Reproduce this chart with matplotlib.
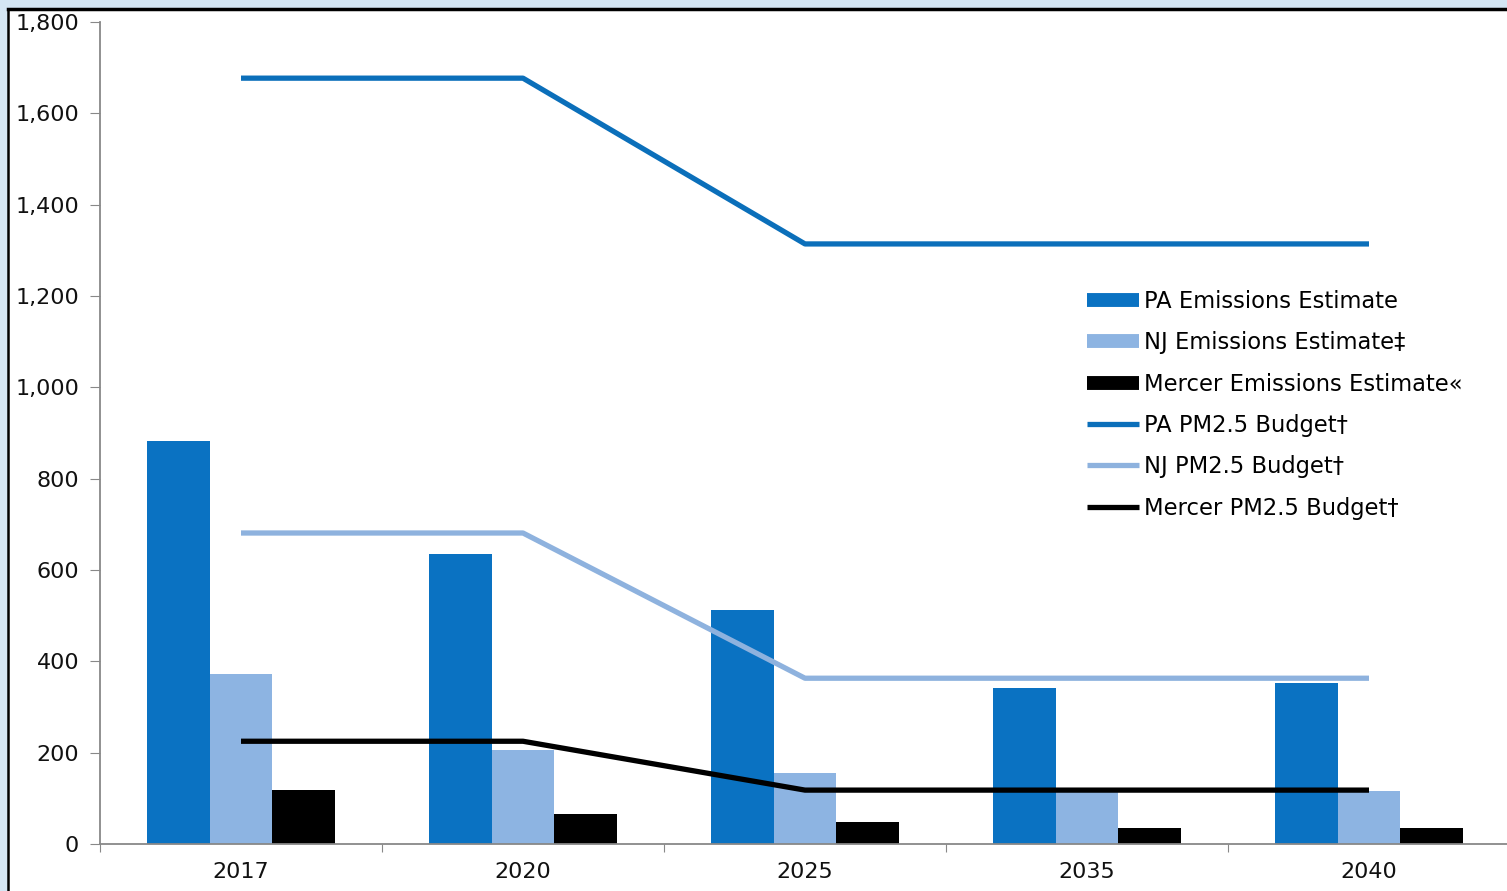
import matplotlib
matplotlib.use("Agg")
import matplotlib.pyplot as plt
import numpy as np
from matplotlib.lines import Line2D
from matplotlib.patches import Rectangle
from matplotlib.ticker import FuncFormatter, FixedLocator

plt.rcParams['font.family'] = ['DejaVu Sans']

years = ['2017', '2020', '2025', '2035', '2040']
pa_emis = [882, 635, 512, 342, 352]
nj_emis = [372, 206, 155, 116, 116]
mercer_emis = [118, 66, 48, 35, 35]
pa_budget = [1677, 1677, 1314, 1314, 1314]
nj_budget = [681, 681, 363, 363, 363]
mercer_budget = [225, 225, 118, 118, 118]

W, H = 1507, 891
fig = plt.figure(figsize=(W / 100, H / 100), dpi=100, facecolor='#d4e6f4')

# white panel with black top/left border
fig.patches.append(Rectangle((8 / W, 0), 1 - 8 / W, 1 - 9 / H, transform=fig.transFigure,
                             facecolor='white', edgecolor='none', zorder=-5))
fig.add_artist(Line2D([8 / W, 1], [1 - 8.5 / H, 1 - 8.5 / H], transform=fig.transFigure,
                      color='black', lw=2.5, zorder=-4))
fig.add_artist(Line2D([8 / W, 8 / W], [0, 1 - 8.5 / H], transform=fig.transFigure,
                      color='black', lw=1.8, zorder=-4))

ax = fig.add_axes([100 / W, 47 / H, 1410 / W, 822 / H])
ax.set_facecolor('none')

x = np.arange(len(years))
bw = 0.223
c_pa = '#0a72c2'
c_nj = '#8db4e2'
c_me = '#000000'

ax.bar(x - bw, pa_emis, bw, color=c_pa, zorder=2)
ax.bar(x, nj_emis, bw, color=c_nj, zorder=2)
ax.bar(x + bw, mercer_emis, bw, color=c_me, zorder=2)

ax.plot(x, pa_budget, color='#0b6fba', lw=3.8, zorder=3, solid_capstyle='butt')
ax.plot(x, nj_budget, color='#8eb2de', lw=3.8, zorder=3, solid_capstyle='butt')
ax.plot(x, mercer_budget, color='black', lw=3.8, zorder=3, solid_capstyle='butt')

ax.set_xlim(-0.5, len(years) - 0.5)
ax.set_ylim(0, 1800)
ax.set_yticks(np.arange(0, 1801, 200))
ax.yaxis.set_major_formatter(FuncFormatter(lambda v, p: f'{int(v):,}'))
ax.xaxis.set_major_locator(FixedLocator(np.arange(-0.5, len(years), 1.0)))
ax.set_xticklabels([])
ax.xaxis.set_minor_locator(FixedLocator(x))
ax.set_xticklabels(years, minor=True)
ax.tick_params(axis='x', which='minor', length=0, pad=13, labelsize=16, labelcolor='#111111')
ax.tick_params(axis='x', which='major', length=6, color='#888888', direction='out')
ax.tick_params(axis='y', length=7, color='#888888', pad=8, labelsize=16, labelcolor='#111111')

for s in ['top', 'right']:
    ax.spines[s].set_visible(False)
for s in ['left', 'bottom']:
    ax.spines[s].set_color('#888888')
    ax.spines[s].set_linewidth(1.3)

handles = [
    Line2D([], [], color=c_pa, lw=10, solid_capstyle='butt'),
    Line2D([], [], color=c_nj, lw=10, solid_capstyle='butt'),
    Line2D([], [], color=c_me, lw=10, solid_capstyle='butt'),
    Line2D([], [], color='#0b6fba', lw=3.8, solid_capstyle='butt'),
    Line2D([], [], color='#8eb2de', lw=3.8, solid_capstyle='butt'),
    Line2D([], [], color='black', lw=3.8, solid_capstyle='butt'),
]
labels = ['PA Emissions Estimate', 'NJ Emissions Estimate\u2021', 'Mercer Emissions Estimate\u00ab',
          'PA PM2.5 Budget\u2020', 'NJ PM2.5 Budget\u2020', 'Mercer PM2.5 Budget\u2020']
fig.legend(handles, labels, loc='upper left', bbox_to_anchor=(1087 / W, 1 - 290 / H),
           bbox_transform=fig.transFigure, frameon=False, fontsize=16.3,
           handlelength=2.3, handletextpad=0.22, labelspacing=0.81, borderpad=0,
           borderaxespad=0)

fig.savefig('out.png', dpi=100, facecolor=fig.get_facecolor())
